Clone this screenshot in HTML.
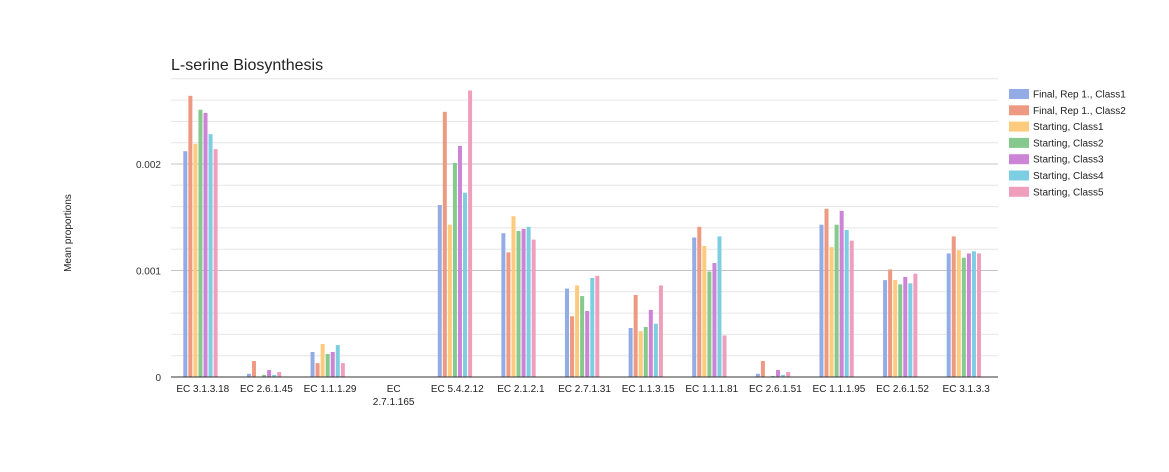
<!DOCTYPE html>
<html><head><meta charset="utf-8"><style>
body{margin:0;background:#fff;font-family:"Liberation Sans",sans-serif;}
svg text{font-family:"Liberation Sans",sans-serif;}
</style></head><body>
<svg id="chart" width="1169" height="467">
<text x="171" y="70" font-size="16" fill="#222">L-serine Biosynthesis</text>
<text transform="translate(71,233) rotate(-90)" text-anchor="middle" font-size="10" fill="#222">Mean proportions</text>
<g id="grid"></g><g id="bars"></g><g id="xlabels"></g><g id="legend"></g>
</svg>
<script>
const categories=["EC 3.1.3.18","EC 2.6.1.45","EC 1.1.1.29","EC 2.7.1.165","EC 5.4.2.12","EC 2.1.2.1","EC 2.7.1.31","EC 1.1.3.15","EC 1.1.1.81","EC 2.6.1.51","EC 1.1.1.95","EC 2.6.1.52","EC 3.1.3.3"];
const seriesNames=["Final, Rep 1., Class1","Final, Rep 1., Class2","Starting, Class1","Starting, Class2","Starting, Class3","Starting, Class4","Starting, Class5"];
const s1=[0.00212,0.00003,0.000235,0.000003,0.001615,0.00135,0.00083,0.00046,0.00131,0.00003,0.00143,0.00091,0.00116];
const s2=[0.00264,0.00015,0.00013,0.000003,0.00249,0.00117,0.00057,0.00077,0.00141,0.00015,0.00158,0.00101,0.00132];
const s3=[0.00219,0.000005,0.00031,0.000003,0.00143,0.00151,0.00086,0.00043,0.00123,0.000005,0.00122,0.00091,0.00119];
const s4=[0.00251,0.00002,0.000216,0.000003,0.00201,0.00137,0.00076,0.00047,0.00099,0.00001,0.00143,0.00087,0.00112];
const s5=[0.00248,0.000066,0.000235,0.000003,0.00217,0.00139,0.00062,0.00063,0.00107,0.000066,0.00156,0.00094,0.00116];
const s6=[0.00228,0.00002,0.0003,0.000003,0.00173,0.00141,0.00093,0.0005,0.00132,0.00002,0.00138,0.00088,0.00118];
const s7=[0.00214,0.000047,0.00013,0.000003,0.00269,0.00129,0.00095,0.00086,0.00039,0.000047,0.00128,0.00097,0.00116];
const yTicks=[0,0.001,0.002];
const yTickLabels=["0","0.001","0.002"];
const series=[s1,s2,s3,s4,s5,s6,s7];
const colors=["#94ace6","#ee9a82","#fccb7e","#85c98d","#cc84d6","#7dcde3","#ef9fbc"];
const NS="http://www.w3.org/2000/svg";
const X0=171,X1=998,Y0=377,PX=106.5/0.001;
const y=v=>Y0-v*PX;
const gw=(X1-X0)/categories.length;
const xc=i=>X0+gw*(i+0.5);
function mk(t,a,p){const e=document.createElementNS(NS,t);for(const k in a)e.setAttribute(k,a[k]);p.appendChild(e);return e;}
const grid=document.getElementById('grid');
for(let k=1;k<=14;k++){const v=k*0.0002;const major=(k%5===0);
 const l=mk('line',{x1:X0,x2:X1,y1:y(v),y2:y(v),stroke:major?'#c4c4c4':'#e6e6e6','stroke-width':1},grid);
 
 }
yTicks.forEach((v,i)=>{const t=mk('text',{x:161,y:y(v)+4,'text-anchor':'end','font-size':10,fill:'#333'},grid);t.textContent=yTickLabels[i];
 
 });
const bars=document.getElementById('bars');
categories.forEach((c,i)=>{series.forEach((s,j)=>{const bx=xc(i)-19.5+j*5.05;const h=Math.max(0,s[i]*PX);
 const r=mk('rect',{x:bx,y:Y0-h,width:4,height:h,fill:colors[j]},bars);
 
 });});
mk('line',{x1:X0,x2:X1,y1:Y0,y2:Y0,stroke:'#333','stroke-width':1},bars);
const xl=document.getElementById('xlabels');
categories.forEach((c,i)=>{const t=mk('text',{x:xc(i),y:392,'text-anchor':'middle','font-size':10,fill:'#222'},xl);
 
 
 if(c==="EC 2.7.1.165"){mk('tspan',{x:xc(i),dy:0},t).textContent="EC";mk('tspan',{x:xc(i),dy:13},t).textContent="2.7.1.165";}
 else t.textContent=c;});
const lg=document.getElementById('legend');
seriesNames.forEach((n,j)=>{const g=mk('g',{},lg);
 
 
 mk('rect',{x:1009,y:89+j*16.3,width:20,height:10,fill:colors[j]},g);
 const t=mk('text',{x:1033,y:97.5+j*16.3,'font-size':10,fill:'#222'},g);t.textContent=n;});
</script>
</body></html>
